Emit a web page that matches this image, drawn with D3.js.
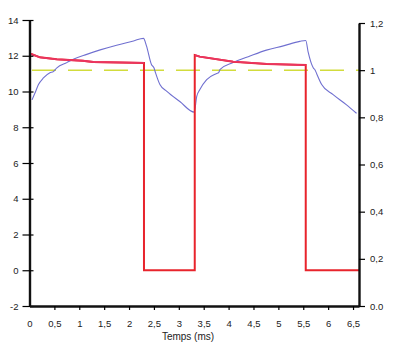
<!DOCTYPE html>
<html>
<head>
<meta charset="utf-8">
<script src="https://cdn.jsdelivr.net/npm/d3@7"></script>
<style>
  body { margin: 0; background: #fff; }
  text { font-family: "Liberation Sans", Arial, sans-serif; fill: #222; }
</style>
</head>
<body>
<svg id="chart" width="401" height="358"></svg>
<script>
// x ticks (ms) and both y axes
const xTicks = [0, 0.5, 1, 1.5, 2, 2.5, 3, 3.5, 4, 4.5, 5, 5.5, 6, 6.5];
const leftTicks = [-2, 0, 2, 4, 6, 8, 10, 12, 14];
const rightTicks = [0, 0.2, 0.4, 0.6, 0.8, 1, 1.2];
const rightLabels = ['0.0', '0,2', '0,4', '0,6', '0,8', '1', '1,2'];

// red square wave (left axis)
const redT = [0, 0.05, 0.21, 0.55, 1.07, 1.28, 2.30, 2.30, 3.32, 3.32, 3.42, 4.09, 4.76, 5.55, 5.55, 6.62];
const redV = [12.1, 12.08, 11.91, 11.80, 11.72, 11.65, 11.60, 0, 0, 12.04, 11.95, 11.67, 11.54, 11.48, 0, 0];

// blue curve (right axis)
const blueT = [0.05, 0.11, 0.18, 0.28, 0.41, 0.48, 0.55, 0.75, 0.88, 1.15, 1.42, 1.75, 2.09, 2.29,
  2.35, 2.45, 2.50, 2.53, 2.62, 2.76, 3.02, 3.31,
  3.36, 3.42, 3.56, 3.76, 3.80, 3.83, 4.09, 4.43, 4.76, 5.10, 5.43, 5.55,
  5.60, 5.70, 5.74, 5.77, 5.87, 6.10, 6.37, 6.57];
const blueV = [0.874, 0.903, 0.939, 0.967, 0.989, 0.994, 1.010, 1.032, 1.046, 1.067, 1.086, 1.106, 1.124, 1.135,
  1.103, 1.024, 1.010, 0.990, 0.939, 0.910, 0.867, 0.822,
  0.889, 0.917, 0.960, 0.986, 0.990, 1.003, 1.032, 1.060, 1.085, 1.103, 1.122, 1.126,
  1.075, 1.010, 1.000, 0.985, 0.939, 0.896, 0.853, 0.817];

// dashed reference level (right axis)
const refLevel = 1;
const refStart = 0.05;

const svg = d3.select('#chart');

const x = d3.scaleLinear().domain([0, 6.62]).range([29.5, 359]);
const yL = d3.scaleLinear().domain([-2, 14]).range([306, 20]);
const yR = d3.scaleLinear().domain([0, 1.2]).range([306, 23]);

const fmt = d => String(d).replace('.', ',');

// dashed line
svg.append('line')
  .attr('x1', x(refStart)).attr('x2', x(6.62))
  .attr('y1', yR(refLevel)).attr('y2', yR(refLevel))
  .attr('stroke', '#d2dc3c')
  .attr('stroke-width', 1.5)
  .attr('stroke-dasharray', '24,12');

// blue curve
const blueLine = d3.line()
  .x((d, i) => x(blueT[i]))
  .y(d => yR(d))
  .curve(d3.curveMonotoneX);
svg.append('path')
  .attr('d', blueLine(blueV))
  .attr('fill', 'none')
  .attr('stroke', '#7070d0')
  .attr('stroke-width', 1.1);

// red square wave
const redLine = d3.line()
  .x((d, i) => x(redT[i]))
  .y(d => yL(d));
svg.append('path')
  .attr('d', redLine(redV))
  .attr('fill', 'none')
  .attr('stroke', '#e8242c')
  .attr('stroke-width', 2);

// plateaus are a bit pinker in the scan
svg.append('path')
  .attr('d', redLine.defined(d => d > 1)(redV))
  .attr('fill', 'none')
  .attr('stroke', '#ea3560')
  .attr('stroke-width', 1.8);

// left axis
const gL = svg.append('g').attr('transform', `translate(${x(0)},0)`);
gL.call(d3.axisLeft(yL).tickValues(leftTicks).tickFormat(d => String(d)).tickSizeInner(6).tickSizeOuter(0).tickPadding(5));
gL.selectAll('.tick line').attr('x2', -7).attr('x1', 4).attr('stroke-width', 1.2);

// right axis
const gR = svg.append('g').attr('transform', `translate(${x(6.62)},0)`);
gR.call(d3.axisRight(yR).tickValues(rightTicks).tickFormat((d, i) => rightLabels[i])
  .tickSize(6).tickSizeOuter(0).tickPadding(5));
gR.selectAll('.tick line').attr('stroke-width', 1.2);

// bottom axis
const gB = svg.append('g').attr('transform', `translate(0,${yL(-2)})`);
gB.call(d3.axisBottom(x).tickValues(xTicks).tickFormat(fmt).tickSize(4).tickSizeOuter(0).tickPadding(10));
gB.selectAll('.tick line').attr('stroke-width', 1.2);
gB.selectAll('.tick').filter(d => d === 0).select('line').remove();

[gL, gR, gB].forEach(g => {
  g.select('.domain').attr('stroke', '#111').attr('stroke-width', 2.4);
  g.selectAll('text').style('font-size', '9.5px').attr('fill', '#222');
});

svg.append('text')
  .attr('x', 188).attr('y', 340)
  .attr('text-anchor', 'middle')
  .style('font-size', '10px')
  .text('Temps (ms)');
</script>
</body>
</html>
